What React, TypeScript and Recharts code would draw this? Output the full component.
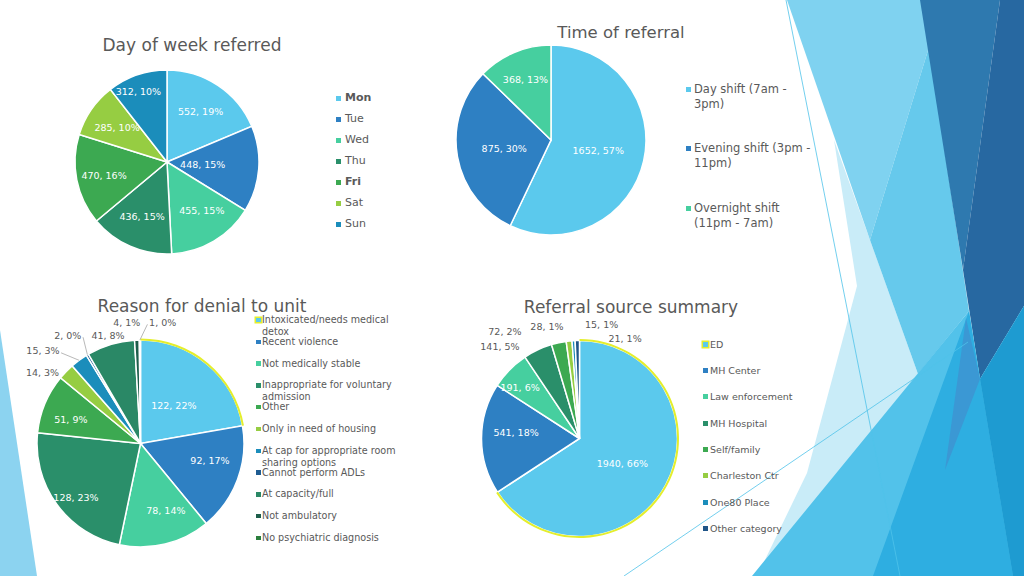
import React from "react";
import { PieChart, Pie, Cell, Legend } from "recharts";

const FONT = '"DejaVu Sans", Verdana, sans-serif';
const GREY = "#595959";
const LEADER = "#A6A6A6";
const HILITE = "#E4EE2C";

// slide palette
const C1 = "#5BC9ED";
const C2 = "#2E80C3";
const C3 = "#46CF9F";
const C4 = "#2A8F6A";
const C5 = "#3CA951";
const C6 = "#96CD42";
const C7 = "#1B8DBB";

const dayNames = ["Mon", "Tue", "Wed", "Thu", "Fri", "Sat", "Sun"];
const dayCounts = [552, 448, 455, 436, 470, 285, 312];
const dayPct = [19, 15, 15, 15, 16, 10, 10];
const dayColors = [C1, C2, C3, C4, C5, C6, C7];

const shiftNames = ["Day shift (7am - 3pm)", "Evening shift (3pm - 11pm)", "Overnight shift (11pm - 7am)"];
const shiftCounts = [1652, 875, 368];
const shiftPct = [57, 30, 13];
const shiftColors = [C1, C2, C3];

const denialReasons = [
  "Intoxicated/needs medical detox",
  "Recent violence",
  "Not medically stable",
  "Inappropriate for voluntary admission",
  "Other",
  "Only in need of housing",
  "At cap for appropriate room sharing options",
  "Cannot perform ADLs",
  "At capacity/full",
  "Not ambulatory",
  "No psychiatric diagnosis",
];
const denialCounts = [122, 92, 78, 128, 51, 14, 15, 2, 41, 4, 1];
const denialPct = [22, 17, 14, 23, 9, 3, 3, 0, 8, 1, 0];
const denialColors = [C1, C2, C3, C4, C5, C6, C7, "#1F5C92", "#2A8866", "#1D5E4B", "#2B7F3D"];

const sourceNames = ["ED", "MH Center", "Law enforcement", "MH Hospital", "Self/family", "Charleston Ctr", "One80 Place", "Other category"];
const sourceCounts = [1940, 541, 191, 141, 72, 28, 15, 21];
const sourcePct = [66, 18, 6, 5, 2, 1, 1, 1];
const sourceColors = [C1, C2, C3, C4, C5, C6, C7, "#1F5588"];

// where each data label sits: fraction of radius, clockwise nudge in degrees
type Spot = { f: number; da?: number; lead?: "l" | "r" };
const daySpots: Spot[] = [{ f: 0.66 }, { f: 0.39 }, { f: 0.65, da: -5 }, { f: 0.65, da: 1 }, { f: 0.7, da: -1 }, { f: 0.66 }, { f: 0.83, da: -3 }];
const shiftSpots: Spot[] = [{ f: 0.51 }, { f: 0.5 }, { f: 0.69 }];
const denialSpots: Spot[] = [
  { f: 0.49, da: 1 },
  { f: 0.69, da: -7 },
  { f: 0.69, da: -7 },
  { f: 0.815, da: -4 },
  { f: 0.71, da: -4 },
  { f: 1.17, da: -8 },
  { f: 1.3, da: -10, lead: "r" },
  { f: 1.26, da: -3, lead: "r" },
  { f: 1.09 },
  { f: 1.18, da: -4.5 },
  { f: 1.19, da: 10.7, lead: "l" },
];
const sourceSpots: Spot[] = [
  { f: 0.505, da: 1.7 },
  { f: 0.65, da: 5.7 },
  { f: 0.8, da: -3.8 },
  { f: 1.24, da: -15.7 },
  { f: 1.33, da: -22.7 },
  { f: 1.19, da: -10.1 },
  { f: 1.18, da: 14.5 },
  { f: 1.125, da: 25.7 },
];

const RAD = Math.PI / 180;

function pieLabel(counts: number[], pct: number[], spots: Spot[], size: number) {
  return (p: any) => {
    const i = p.index;
    const s = spots[i];
    const a = (p.midAngle - (s.da || 0)) * RAD;
    const r = p.outerRadius * s.f;
    const x = p.cx + r * Math.cos(a);
    const y = p.cy - r * Math.sin(a);
    const txt = `${counts[i]}, ${pct[i]}%`;
    const outside = s.f > 1;
    let lead = null;
    if (s.lead) {
      const m = p.midAngle * RAD;
      const ex = p.cx + p.outerRadius * Math.cos(m);
      const ey = p.cy - p.outerRadius * Math.sin(m);
      const hw = txt.length * size * 0.3;
      const sx = s.lead === "r" ? x + hw + 1 : x - hw - 1;
      lead = <polyline points={`${sx},${y + 2} ${ex},${ey}`} fill="none" stroke={LEADER} strokeWidth={0.8} />;
    }
    return (
      <g key={`lbl-${i}`}>
        {lead}
        <text
          x={x}
          y={y}
          textAnchor="middle"
          dominantBaseline="central"
          fontFamily={FONT}
          fontSize={size}
          fill={outside ? GREY : "#ffffff"}
        >
          {txt}
        </text>
      </g>
    );
  };
}

function wrapWords(text: string, max: number) {
  const out: string[] = [];
  let line = "";
  for (const w of text.split(" ")) {
    const next = line ? line + " " + w : w;
    if (next.length > max && line) {
      out.push(line);
      line = w;
    } else line = next;
  }
  if (line) out.push(line);
  return out;
}

type LegendSpec = {
  names: string[];
  colors: string[];
  size: number;
  itemH: number;
  lineH: number;
  box: number;
  gap: number;
  maxChars: number;
  bold?: number[];
  ring?: number;
};

function SlideLegend({ spec }: { spec: LegendSpec }) {
  return (
    <div style={{ fontFamily: FONT, fontSize: spec.size, color: GREY }}>
      {spec.names.map((n, i) => (
        <div key={n} style={{ position: "relative", height: spec.itemH }}>
          <span
            style={{
              position: "absolute",
              left: 0,
              top: (spec.lineH - spec.box) / 2,
              width: spec.box,
              height: spec.box,
              background: spec.colors[i],
              boxShadow: spec.ring === i ? `0 0 0 1.5px ${HILITE}` : undefined,
            }}
          />
          <div
            style={{
              position: "absolute",
              left: spec.box + spec.gap,
              top: 0,
              lineHeight: `${spec.lineH}px`,
              whiteSpace: "nowrap",
              fontWeight: spec.bold && spec.bold.includes(i) ? "bold" : "normal",
            }}
          >
            {wrapWords(n, spec.maxChars).map((l) => (
              <div key={l}>{l}</div>
            ))}
          </div>
        </div>
      ))}
    </div>
  );
}

type SlicePie = {
  left: number;
  top: number;
  w: number;
  h: number;
  cx: number;
  cy: number;
  r: number;
  names: string[];
  counts: number[];
  pct: number[];
  colors: string[];
  spots: Spot[];
  labelSize: number;
  legend: LegendSpec;
  legendLeft: number;
  legendTop: number;
  legendW: number;
  ringFirst?: boolean;
};

function SlidePie(c: SlicePie) {
  const data = c.names.map((name, i) => ({ name, value: c.counts[i] }));
  return (
    <div style={{ position: "absolute", left: c.left, top: c.top }}>
      <PieChart width={c.w} height={c.h} margin={{ top: 0, right: 0, bottom: 0, left: 0 }}>
        <Pie
          data={data}
          dataKey="value"
          nameKey="name"
          cx={c.cx}
          cy={c.cy}
          outerRadius={c.r}
          startAngle={90}
          endAngle={-270}
          stroke="#ffffff"
          strokeWidth={1.5}
          labelLine={false}
          label={pieLabel(c.counts, c.pct, c.spots, c.labelSize)}
          isAnimationActive={false}
        >
          {data.map((d, i) => (
            <Cell key={d.name} fill={c.colors[i]} />
          ))}
        </Pie>
        {c.ringFirst && (
          <Pie
            data={data}
            dataKey="value"
            nameKey="name"
            cx={c.cx}
            cy={c.cy}
            innerRadius={c.r - 0.5}
            outerRadius={c.r + 1.5}
            startAngle={90}
            endAngle={-270}
            stroke="none"
            legendType="none"
            label={false}
            labelLine={false}
            isAnimationActive={false}
          >
            {data.map((d, i) => (
              <Cell key={d.name} fill={i === 0 ? HILITE : "transparent"} />
            ))}
          </Pie>
        )}
        <Legend
          layout="vertical"
          align="right"
          verticalAlign="top"
          wrapperStyle={{ left: c.legendLeft, top: c.legendTop, width: c.legendW }}
          content={() => <SlideLegend spec={c.legend} />}
        />
      </PieChart>
    </div>
  );
}

function Title({ text, x, y, size }: { text: string; x: number; y: number; size: number }) {
  return (
    <div
      style={{
        position: "absolute",
        left: x - 160,
        top: y - 12,
        width: 320,
        lineHeight: "24px",
        textAlign: "center",
        fontFamily: FONT,
        fontSize: size,
        color: GREY,
      }}
    >
      {text}
    </div>
  );
}

// theme decoration on the slide edges
const decor = [
  { pts: "0,330 37,576 0,576", fill: "#8CD3F0" },
  { pts: "834,140 870,240 918,374 762,566 807,473 857,286", fill: "#C9ECF8" },
  { pts: "787,0 921,0 929,47 870,240", fill: "#7FD2F0" },
  { pts: "929,47 969,311 918,374 870,240", fill: "#66C9EC" },
  { pts: "920,0 1000,0 963,270", fill: "#2E79AF" },
  { pts: "1000,0 1024,0 1024,306 980,379 963,270", fill: "#2768A1" },
  { pts: "752,576 969,311 980,379 1024,306 1024,576", fill: "#52C2EA" },
  { pts: "873,576 969,311 980,379 1013,576", fill: "#2EAEE1" },
  { pts: "980,379 1024,306 1024,576 1013,576", fill: "#1E9BD1" },
  { pts: "966,318 980,379 945,470", fill: "#3B98D4" },
];

export default function App() {
  return (
    <div
      style={{
        position: "absolute",
        left: 0,
        top: 0,
        width: 1024,
        height: 576,
        overflow: "hidden",
        background: "#ffffff",
        fontFamily: FONT,
      }}
    >
      <svg width={1024} height={576} style={{ position: "absolute", left: 0, top: 0 }}>
        {decor.map((d) => (
          <polygon key={d.pts} points={d.pts} fill={d.fill} />
        ))}
        <line x1={786} y1={0} x2={900} y2={576} stroke="#4FC3EA" strokeWidth={0.8} />
        <line x1={624} y1={576} x2={968} y2={342} stroke="#4FC3EA" strokeWidth={0.8} />
      </svg>

      <Title text="Day of week referred" x={192} y={45} size={17} />
      <Title text="Time of referral" x={621} y={33} size={16.5} />
      <Title text="Reason for denial to unit" x={202} y={306} size={17} />
      <Title text="Referral source summary" x={631} y={307} size={17} />

      <SlidePie
        left={0}
        top={0}
        w={420}
        h={270}
        cx={167}
        cy={162}
        r={92}
        names={dayNames}
        counts={dayCounts}
        pct={dayPct}
        colors={dayColors}
        spots={daySpots}
        labelSize={9.5}
        legendLeft={336}
        legendTop={91}
        legendW={80}
        legend={{ names: dayNames, colors: dayColors, size: 11, itemH: 21, lineH: 14, box: 5, gap: 4, maxChars: 30, bold: [0, 4] }}
      />
      <SlidePie
        left={420}
        top={0}
        w={400}
        h={270}
        cx={131}
        cy={140}
        r={95}
        names={shiftNames}
        counts={shiftCounts}
        pct={shiftPct}
        colors={shiftColors}
        spots={shiftSpots}
        labelSize={9.5}
        legendLeft={266}
        legendTop={81.5}
        legendW={140}
        legend={{ names: shiftNames, colors: shiftColors, size: 11.5, itemH: 59.5, lineH: 15, box: 5, gap: 3, maxChars: 20 }}
      />
      <SlidePie
        left={0}
        top={280}
        w={440}
        h={296}
        cx={140.5}
        cy={163.5}
        r={103.5}
        names={denialReasons}
        counts={denialCounts}
        pct={denialPct}
        colors={denialColors}
        spots={denialSpots}
        labelSize={9.5}
        legendLeft={256}
        legendTop={34}
        legendW={180}
        ringFirst
        legend={{ names: denialReasons, colors: denialColors, size: 9.6, itemH: 21.8, lineH: 12, box: 4.5, gap: 1.5, maxChars: 27, ring: 0 }}
      />
      <SlidePie
        left={440}
        top={280}
        w={400}
        h={296}
        cx={139.5}
        cy={158.5}
        r={98}
        names={sourceNames}
        counts={sourceCounts}
        pct={sourcePct}
        colors={sourceColors}
        spots={sourceSpots}
        labelSize={9.5}
        legendLeft={263}
        legendTop={57.5}
        legendW={120}
        ringFirst
        legend={{ names: sourceNames, colors: sourceColors, size: 9.5, itemH: 26.4, lineH: 13, box: 5, gap: 2, maxChars: 30, ring: 0 }}
      />
    </div>
  );
}
